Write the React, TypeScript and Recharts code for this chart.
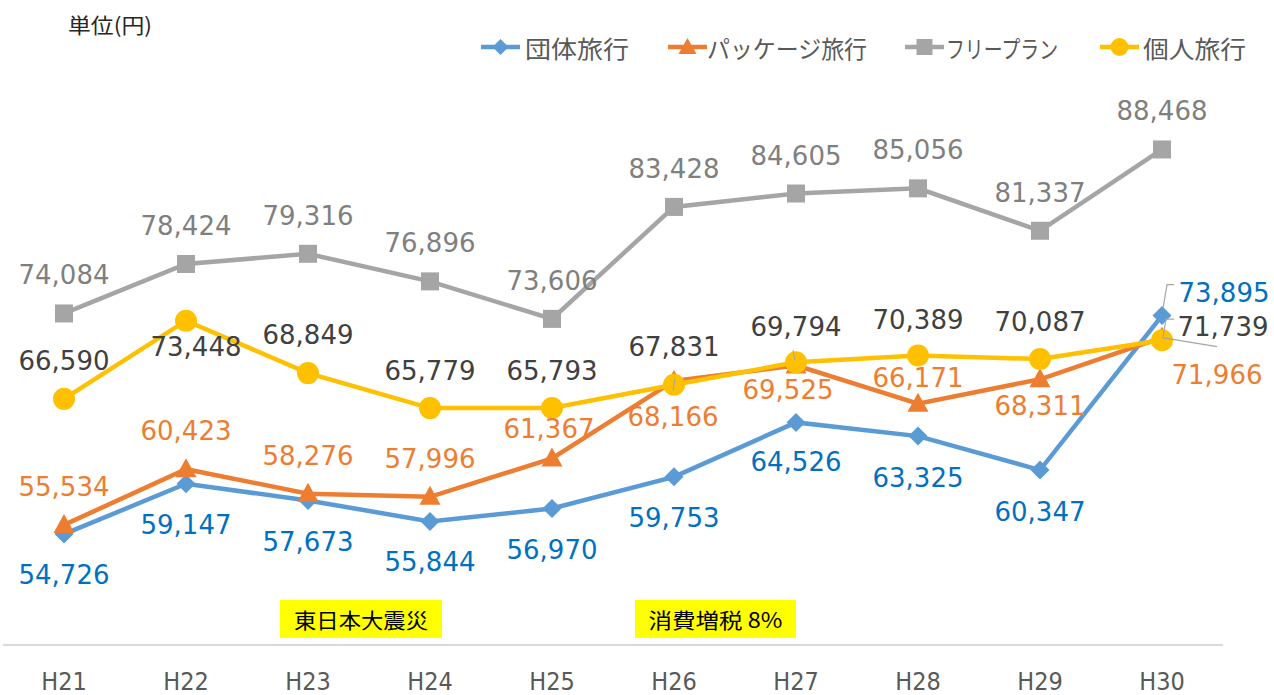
import React from 'react';
import { LineChart, Line, XAxis, YAxis, LabelList } from 'recharts';

const categories = ['H21', 'H22', 'H23', 'H24', 'H25', 'H26', 'H27', 'H28', 'H29', 'H30'];
const groupTour = [54726, 59147, 57673, 55844, 56970, 59753, 64526, 63325, 60347, 73895];
const packageTour = [55534, 60423, 58276, 57996, 61367, 68166, 69525, 66171, 68311, 71966];
const freePlan = [74084, 78424, 79316, 76896, 73606, 83428, 84605, 85056, 81337, 88468];
const individualTour = [66590, 73448, 68849, 65779, 65793, 67831, 69794, 70389, 70087, 71739];

const seriesNames = ['団体旅行', 'パッケージ旅行', 'フリープラン', '個人旅行'];

// label offsets (text centre relative to point)
const groupLabelOffset: [number, number][] = [[0, 41], [0, 41], [0, 41], [0, 41], [0, 41], [0, 41], [0, 40], [0, 42], [0, 42], [62, -23]];
const packageLabelOffset: [number, number][] = [[0, -38], [0, -38], [0, -38], [0, -38], [-3, -29], [-1, 36], [-8, 25], [0, -26], [0, 27], [55, 37]];
const freeLabelOffset: [number, number][] = categories.map(() => [0, -38]);
const indivLabelOffset: [number, number][] = [[0, -38], [10, 26], [0, -38], [0, -37], [0, -37], [0, -38], [0, -35], [0, -36], [0, -37], [61, -13]];

const data = categories.map((c, i) => ({
  cat: c,
  group: groupTour[i],
  pkg: packageTour[i],
  free: freePlan[i],
  indiv: individualTour[i],
}));

const C_BLUE = '#5b9bd5';
const C_ORANGE = '#ed7d31';
const C_GRAY = '#a5a5a5';
const C_YELLOW = '#ffc000';
const LEADER = '#a6a6a6';

const fmt = (v: number) => v.toLocaleString('en-US');

const Diamond = (props: any) => {
  const { cx, cy, index } = props;
  if (cx == null || cy == null) return <g key={index} />;
  const s = 9.5;
  return <path key={index} d={`M${cx},${cy - s}L${cx + s},${cy}L${cx},${cy + s}L${cx - s},${cy}Z`} fill={C_BLUE} />;
};
const Triangle = (props: any) => {
  const { cx, cy, index } = props;
  if (cx == null || cy == null) return <g key={index} />;
  return <path key={index} d={`M${cx},${cy - 11}L${cx + 10.5},${cy + 8}L${cx - 10.5},${cy + 8}Z`} fill={C_ORANGE} />;
};
const Square = (props: any) => {
  const { cx, cy, index } = props;
  if (cx == null || cy == null) return <g key={index} />;
  return <rect key={index} x={cx - 9} y={cy - 9} width={18} height={18} fill={C_GRAY} />;
};
const Circle = (props: any) => {
  const { cx, cy, index } = props;
  if (cx == null || cy == null) return <g key={index} />;
  return <circle key={index} cx={cx} cy={cy} r={11} fill={C_YELLOW} />;
};

const makeLabel = (offsets: [number, number][], color: string, leaders: Record<number, (x: number, y: number) => string>) => (props: any) => {
  const { x, y, value, index } = props;
  if (x == null || y == null) return null;
  const [dx, dy] = offsets[index] || [0, 0];
  const leader = leaders[index];
  return (
    <g key={`lbl-${index}`}>
      {leader && <polyline points={leader(x, y)} fill="none" stroke={LEADER} strokeWidth={1.2} />}
      <text
        x={x + dx}
        y={y + dy}
        textAnchor="middle"
        dominantBaseline="central"
        fontFamily="'DejaVu Sans', Verdana, sans-serif"
        fontSize={26}
        fill={color}
      >
        {fmt(value)}
      </text>
    </g>
  );
};

const groupLabel = makeLabel(groupLabelOffset, '#0070c0', {
  9: (x, y) => `${x + 1},${y - 7} ${x + 5},${y - 31} ${x + 12},${y - 31}`,
});
const packageLabel = makeLabel(packageLabelOffset, C_ORANGE, {
  9: (x, y) => `${x},${y} ${x + 55},${y + 9}`,
});
const freeLabel = makeLabel(freeLabelOffset, '#7f7f7f', {});
const indivLabel = makeLabel(indivLabelOffset, '#404040', {
  5: (x, y) => `${x + 1},${y - 6} ${x - 1},${y + 6}`,
  6: (x, y) => `${x - 3},${y - 12} ${x - 1},${y - 2}`,
  9: (x, y) => `${x + 1},${y - 3} ${x + 4},${y - 21} ${x + 12},${y - 21}`,
});

const XTick = (props: any) => {
  const { x, y, payload } = props;
  return (
    <text x={x} y={y + 37} textAnchor="middle" fontFamily="'DejaVu Sans Condensed', 'DejaVu Sans', sans-serif" fontSize={25} fill="#595959">
      {payload.value}
    </text>
  );
};

const legendItems = [
  { name: seriesNames[0], color: C_BLUE, lineX: 481, textX: 525, textW: 104, marker: 'diamond' },
  { name: seriesNames[1], color: C_ORANGE, lineX: 668, textX: 707, textW: 160, marker: 'triangle' },
  { name: seriesNames[2], color: C_GRAY, lineX: 905, textX: 946, textW: 112, marker: 'square' },
  { name: seriesNames[3], color: C_YELLOW, lineX: 1100, textX: 1143, textW: 103, marker: 'circle' },
];

const LegendMarker = ({ kind, cx, cy, color }: { kind: string; cx: number; cy: number; color: string }) => {
  if (kind === 'diamond') return <path d={`M${cx},${cy - 8}L${cx + 8},${cy}L${cx},${cy + 8}L${cx - 8},${cy}Z`} fill={color} />;
  if (kind === 'triangle') return <path d={`M${cx},${cy - 9}L${cx + 9},${cy + 7}L${cx - 9},${cy + 7}Z`} fill={color} />;
  if (kind === 'square') return <rect x={cx - 8} y={cy - 8} width={16} height={16} fill={color} />;
  return <circle cx={cx} cy={cy} r={9} fill={color} />;
};

export default function App() {
  return (
    <div style={{ position: 'absolute', left: 0, top: 0, width: 1274, height: 695, background: '#fff' }}>
      <LineChart width={1274} height={695} data={data} margin={{ top: 18, right: 51, left: 3, bottom: 0 }}>
        <XAxis dataKey="cat" height={50} padding={{ left: 61, right: 61 }} axisLine={{ stroke: '#d9d9d9', strokeWidth: 2 }} tickLine={false} tick={<XTick />} interval={0} />
        <YAxis hide width={0} domain={[45000, 100000]} />
        <Line dataKey="group" stroke={C_BLUE} strokeWidth={4.5} dot={Diamond} activeDot={false} isAnimationActive={false} />
        <Line dataKey="pkg" stroke={C_ORANGE} strokeWidth={4.5} dot={Triangle} activeDot={false} isAnimationActive={false} />
        <Line dataKey="free" stroke={C_GRAY} strokeWidth={4.5} dot={Square} activeDot={false} isAnimationActive={false} />
        <Line dataKey="indiv" stroke={C_YELLOW} strokeWidth={4.5} dot={Circle} activeDot={false} isAnimationActive={false} />
        <Line dataKey="group" stroke="none" dot={false} activeDot={false} isAnimationActive={false}>
          <LabelList dataKey="group" content={groupLabel} />
        </Line>
        <Line dataKey="pkg" stroke="none" dot={false} activeDot={false} isAnimationActive={false}>
          <LabelList dataKey="pkg" content={packageLabel} />
        </Line>
        <Line dataKey="free" stroke="none" dot={false} activeDot={false} isAnimationActive={false}>
          <LabelList dataKey="free" content={freeLabel} />
        </Line>
        <Line dataKey="indiv" stroke="none" dot={false} activeDot={false} isAnimationActive={false}>
          <LabelList dataKey="indiv" content={indivLabel} />
        </Line>
      </LineChart>
      <svg width={1274} height={695} style={{ position: 'absolute', left: 0, top: 0, pointerEvents: 'none' }}>
        <text x={68} y={24} dominantBaseline="central" fontFamily="'Noto Sans CJK JP', sans-serif" fontSize={21} fill="#262626" textLength={84} lengthAdjust="spacingAndGlyphs">
          単位(円)
        </text>
        {legendItems.map((it) => (
          <g key={it.name}>
            <line x1={it.lineX} y1={47} x2={it.lineX + 39} y2={47} stroke={it.color} strokeWidth={4.5} />
            <LegendMarker kind={it.marker} cx={it.lineX + 19.5} cy={47} color={it.color} />
            <text x={it.textX} y={47} dominantBaseline="central" fontFamily="'Noto Sans CJK JP', sans-serif" fontSize={24} fill="#595959" textLength={it.textW} lengthAdjust="spacingAndGlyphs">
              {it.name}
            </text>
          </g>
        ))}
        <rect x={280} y={600} width={162} height={38} fill="#ffff00" />
        <text x={361} y={619} textAnchor="middle" dominantBaseline="central" fontFamily="'Noto Sans CJK JP', sans-serif" fontSize={21} fill="#000" textLength={134} lengthAdjust="spacingAndGlyphs">
          東日本大震災
        </text>
        <rect x={635} y={600} width={161} height={38} fill="#ffff00" />
        <text x={715.5} y={619} textAnchor="middle" dominantBaseline="central" fontFamily="'Noto Sans CJK JP', sans-serif" fontSize={21} fill="#000" textLength={134} lengthAdjust="spacingAndGlyphs">
          消費増税 8%
        </text>
      </svg>
    </div>
  );
}
